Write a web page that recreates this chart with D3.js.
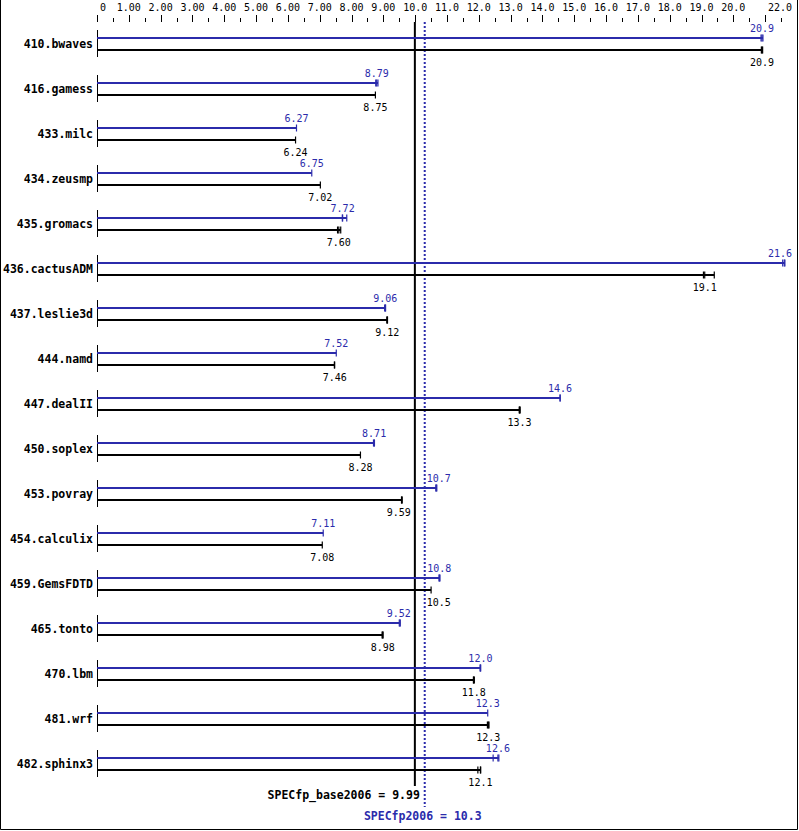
<!DOCTYPE html>
<html><head><meta charset="utf-8">
<script src="https://cdn.jsdelivr.net/npm/d3@7/dist/d3.min.js"></script>
<style>body{margin:0;background:#fff}</style>
</head><body>
<script>
const benchmarks = ["410.bwaves","416.gamess","433.milc","434.zeusmp","435.gromacs","436.cactusADM","437.leslie3d","444.namd","447.dealII","450.soplex","453.povray","454.calculix","459.GemsFDTD","465.tonto","470.lbm","481.wrf","482.sphinx3"];
// peak runs (min, median, max)
const peakRuns = [[20.87,20.9,20.93],[8.76,8.79,8.83],[6.27,6.27,6.27],[6.75,6.75,6.75],[7.71,7.72,7.85],[21.55,21.6,21.62],[9.04,9.06,9.07],[7.52,7.52,7.52],[14.55,14.55,14.56],[8.69,8.71,8.72],[10.65,10.66,10.68],[7.11,7.11,7.11],[10.75,10.76,10.78],[9.50,9.52,9.53],[12.04,12.05,12.06],[12.28,12.28,12.28],[12.45,12.6,12.63]];
const peakLabels = ["20.9","8.79","6.27","6.75","7.72","21.6","9.06","7.52","14.6","8.71","10.7","7.11","10.8","9.52","12.0","12.3","12.6"];
// base runs (min, median, max)
const baseRuns = [[20.88,20.9,20.92],[8.75,8.75,8.75],[6.24,6.24,6.24],[7.02,7.02,7.02],[7.56,7.60,7.66],[19.06,19.1,19.4],[9.11,9.12,9.13],[7.46,7.47,7.47],[13.27,13.28,13.3],[8.28,8.28,8.28],[9.57,9.58,9.59],[7.08,7.08,7.08],[10.5,10.5,10.5],[8.96,8.98,8.99],[11.83,11.84,11.86],[12.27,12.30,12.32],[11.97,12.05,12.06]];
const baseLabels = ["20.9","8.75","6.24","7.02","7.60","19.1","9.12","7.46","13.3","8.28","9.59","7.08","10.5","8.98","11.8","12.3","12.1"];
const tickLabelValues = [0,1,2,3,4,5,6,7,8,9,10,11,12,13,14,15,16,17,18,19,20,22];
const baseScore = 9.99, peakScore = 10.3;
const baseScoreText = "SPECfp_base2006 = 9.99", peakScoreText = "SPECfp2006 = 10.3";

const W = 799, H = 831;
const BLUE = "#2b2bab", BLACK = "#000";
const svg = d3.select("body").append("svg").attr("width", W).attr("height", H);
const x = d3.scaleLinear().domain([0, 22]).range([97, 797]);
const y = d3.scalePoint().domain(benchmarks).range([44, 44 + 16 * 45]);
const mono = "'DejaVu Sans Mono', 'Liberation Mono', monospace";

// frame
svg.append("path").attr("d", `M0.5,0 V${H-1.5} H797.5 V0`).attr("fill","none").attr("stroke","#000").attr("stroke-width",1);

// axis ticks
const ticks = d3.range(0, 22.01, 0.5);
svg.selectAll("line.tk").data(ticks).join("line")
  .attr("x1", d => Math.round(x(d)) + 0.5).attr("x2", d => Math.round(x(d)) + 0.5)
  .attr("y1", d => Number.isInteger(d) ? 15 : 18).attr("y2", 22)
  .attr("stroke", "#000").attr("stroke-width", 1);
const tl = svg.selectAll("text.tl").data(tickLabelValues).join("text")
  .attr("font-family", mono).attr("font-size", 10).attr("fill", "#000")
  .attr("y", 10.5)
  .text(d => d === 0 ? "0" : (d < 10 ? d.toFixed(2) : d.toFixed(1)));
tl.each(function(d) {
  const w = this.getComputedTextLength();
  let left = x(d) - w / 2;
  left = Math.max(left, 100);
  left = Math.min(left, 792 - w);
  d3.select(this).attr("x", left);
});

// reference lines
svg.append("line").attr("x1", x(baseScore)).attr("x2", x(baseScore)).attr("y1", 22).attr("y2", 786)
  .attr("stroke", BLACK).attr("stroke-width", 2);
svg.append("line").attr("x1", x(peakScore)).attr("x2", x(peakScore)).attr("y1", 22).attr("y2", 807)
  .attr("stroke", BLUE).attr("stroke-width", 2).attr("stroke-dasharray", "2,2");
svg.append("text").attr("x", x(baseScore) + 5).attr("y", 799).attr("text-anchor", "end")
  .attr("font-family", mono).attr("font-weight", "bold").attr("font-size", 11.5).attr("fill", BLACK).text(baseScoreText);
svg.append("text").attr("x", x(peakScore) - 2).attr("y", 820).attr("text-anchor", "middle")
  .attr("font-family", mono).attr("font-weight", "bold").attr("font-size", 11.5).attr("fill", BLUE).text(peakScoreText);

// groups
const g = svg.selectAll("g.bm").data(benchmarks).join("g").attr("class", "bm");
g.append("text").attr("x", 93).attr("y", d => y(d) + 3.8).attr("text-anchor", "end")
  .attr("font-family", mono).attr("font-weight", "bold").attr("font-size", 11.5).attr("fill", "#000").text(d => d);
g.append("line").attr("x1", 97.5).attr("x2", 97.5).attr("y1", d => y(d) - 14).attr("y2", d => y(d) + 13)
  .attr("stroke", "#000").attr("stroke-width", 1);

const zoneL = x(baseScore) - 4, zoneR = x(peakScore) + 2;
function drawSeries(runs, labels, color, dy, labelDy) {
  benchmarks.forEach((b, i) => {
    const yy = y(b) + dy;
    const r = runs[i];
    svg.append("line").attr("x1", x(0)).attr("x2", x(d3.max(r))).attr("y1", yy).attr("y2", yy)
      .attr("stroke", color).attr("stroke-width", 2);
    const uniq = Array.from(new Set(r));
    uniq.forEach(v => {
      svg.append("line").attr("x1", x(v)).attr("x2", x(v)).attr("y1", yy - 3.5).attr("y2", yy + 3.5)
        .attr("stroke", color).attr("stroke-width", 1.2);
    });
    const t = svg.append("text").attr("font-family", mono).attr("font-size", 10).attr("fill", color)
      .attr("y", yy + labelDy).text(labels[i]);
    const w = t.node().getComputedTextLength();
    let left = x(r[1]) - w / 2;
    if (left < zoneR && left + w > zoneL) {
      if (x(r[1]) < (zoneL + zoneR) / 2) left = zoneL - w; else left = zoneR;
    }
    left = Math.min(left, 792 - w);
    t.attr("x", left);
  });
}
drawSeries(peakRuns, peakLabels, BLUE, -6, -6);
drawSeries(baseRuns, baseLabels, BLACK, 6, 15.5);
</script>
</body></html>
